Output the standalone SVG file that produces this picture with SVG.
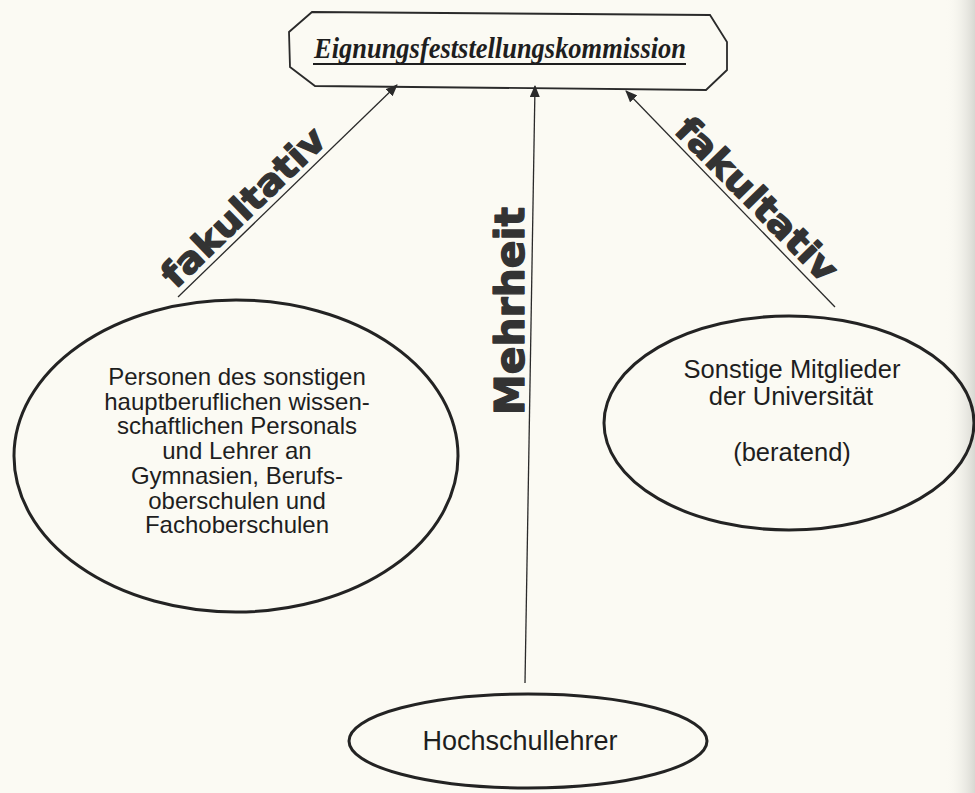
<svg xmlns="http://www.w3.org/2000/svg" width="975" height="793" viewBox="0 0 975 793">
<defs>
<linearGradient id="edge" x1="0" y1="0" x2="1" y2="0">
<stop offset="0" stop-color="#fbfaf3" stop-opacity="0"/>
<stop offset="1" stop-color="#d8d8d2"/>
</linearGradient>
<marker id="ah" viewBox="0 0 12 10" refX="11" refY="5" markerWidth="12" markerHeight="10" markerUnits="userSpaceOnUse" orient="auto">
<path d="M0,0 L12,5 L0,10 Z" fill="#2a2a2a"/>
</marker>
<style>
.node{fill:none;stroke:#232323;stroke-width:3}
.box{fill:none;stroke:#2a2a2a;stroke-width:1.8}
.body{font-family:"Liberation Sans",Arial,sans-serif;font-size:24px;fill:#1e1e1e;text-anchor:middle}
.big{font-size:25.5px}
.huge{font-size:27px}
.title{font-family:"Liberation Serif","Times New Roman",serif;font-weight:bold;font-style:italic;font-size:29px;fill:#1e1e1e}
.edge{stroke:#2a2a2a;stroke-width:1.3;fill:none;marker-end:url(#ah)}
.lbl{font-family:"DejaVu Sans","Liberation Sans",sans-serif;font-weight:bold;fill:#333;stroke:#333;stroke-width:1.3;stroke-linejoin:round;text-anchor:middle}
</style>
</defs>
<rect width="975" height="793" fill="#fbfaf3"/>
<rect x="945" y="0" width="30" height="793" fill="url(#edge)"/>

<g id="connectors">
<line class="edge" x1="178" y1="297" x2="397" y2="85"/>
<line class="edge" x1="525" y1="683" x2="535" y2="86"/>
<line class="edge" x1="835" y1="307" x2="626" y2="91"/>
<text class="lbl" font-size="36" textLength="212" lengthAdjust="spacingAndGlyphs" transform="translate(252,216) rotate(-44)">fakultativ</text>
<text class="lbl" font-size="40" textLength="208" lengthAdjust="spacingAndGlyphs" transform="translate(524,311) rotate(-90)">Mehrheit</text>
<text class="lbl" font-size="36" textLength="214" lengthAdjust="spacingAndGlyphs" transform="translate(748,208) rotate(45.5)">fakultativ</text>
</g>

<g id="kommission">
<polygon class="box" points="312,12 710,15 727,42 727,70 706,90 315,86 290,67 289,32"/>
<text class="title" x="314" y="58" textLength="372" lengthAdjust="spacingAndGlyphs">Eignungsfeststellungskommission</text>
<line x1="313" y1="64" x2="686" y2="64" stroke="#1e1e1e" stroke-width="2"/>
</g>

<g id="personal">
<ellipse class="node" cx="236" cy="456" rx="222" ry="156"/>
<text class="body" x="237" y="385">Personen des sonstigen</text>
<text class="body" x="237" y="409.7">hauptberuflichen wissen-</text>
<text class="body" x="237" y="434.4">schaftlichen Personals</text>
<text class="body" x="237" y="459.1">und Lehrer an</text>
<text class="body" x="237" y="483.8">Gymnasien, Berufs-</text>
<text class="body" x="237" y="508.5">oberschulen und</text>
<text class="body" x="237" y="533.2">Fachoberschulen</text>
</g>

<g id="mitglieder">
<ellipse class="node" cx="789" cy="423" rx="185" ry="107"/>
<text class="body big" x="792" y="378">Sonstige Mitglieder</text>
<text class="body big" x="791" y="405">der Universität</text>
<text class="body big" x="792" y="461">(beratend)</text>
</g>

<g id="hochschullehrer">
<ellipse class="node" cx="528" cy="741" rx="179" ry="47"/>
<text class="body huge" x="520" y="750">Hochschullehrer</text>
</g>
</svg>
